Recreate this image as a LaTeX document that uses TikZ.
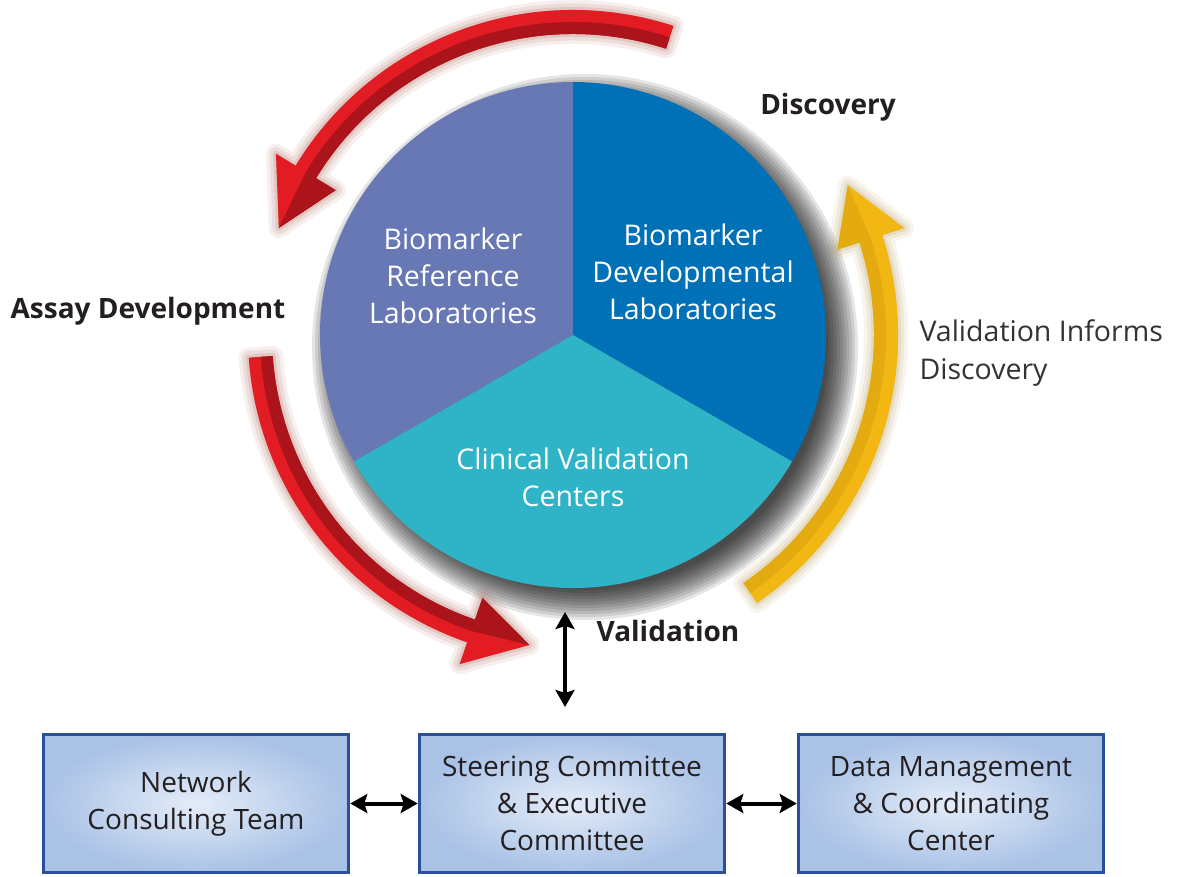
\documentclass[tikz,border=0pt]{standalone}
\usepackage{fontspec}
\setmainfont{Open Sans}
\usetikzlibrary{calc,arrows.meta}

\definecolor{purp}{HTML}{6878B5}
\definecolor{blu}{HTML}{0071B6}
\definecolor{cyn}{HTML}{2EB3C7}
\definecolor{redA}{HTML}{E31B23}
\definecolor{redB}{HTML}{AA141A}
\definecolor{redS}{HTML}{8A2A18}
\definecolor{yelA}{HTML}{F2B713}
\definecolor{yelB}{HTML}{DBA40E}
\definecolor{yelS}{HTML}{9C7A1C}
\definecolor{boxline}{HTML}{2B4F9B}
\definecolor{boxin}{HTML}{E4ECF8}
\definecolor{boxout}{HTML}{A9C2E6}
\definecolor{txt}{HTML}{231F20}
\definecolor{txtgray}{HTML}{333333}

% fat curved arrow around C: tail angle, head base angle, tip angle
\newcommand\fatpath[3]{(C) ++(#1:325) arc[start angle=#1,end angle=#2,radius=325] -- ($(C)+(#2:348)$) -- ($(C)+(#3:313)$) -- ($(C)+(#2:278)$) -- ($(C)+(#2:301)$) arc[start angle=#2,end angle=#1,radius=301] -- cycle}
\newcommand\innerpath[3]{(C) ++(#1:313) arc[start angle=#1,end angle=#2,radius=313] -- ($(C)+(#3:313)$) -- ($(C)+(#2:278)$) -- ($(C)+(#2:301)$) arc[start angle=#2,end angle=#1,radius=301] -- cycle}

\tikzset{
  intext/.style={text=white, align=center, font=\fontsize{28.5}{37}\selectfont},
  lbl/.style={text=txt, font=\bfseries\fontsize{28}{32}\selectfont},
  note/.style={text=txtgray, align=left, font=\fontsize{28.5}{38}\selectfont},
  unit/.style={draw=boxline, line width=3.5pt, inner color=boxin, outer color=boxout,
    minimum width=305pt, minimum height=138pt, align=center, text=txt,
    font=\fontsize{28}{37}\selectfont},
  dbl/.style={{Stealth[length=17pt,width=19pt,inset=3pt]}-{Stealth[length=17pt,width=19pt,inset=3pt]}, line width=4pt, black}
}

\begin{document}
\begin{tikzpicture}[x=1pt,y=1pt]
\useasboundingbox (0,0) rectangle (1181,-876);
\fill[white] (0,0) rectangle (1181,-876);
\coordinate (C) at (573,-335);

% circle shadow
\foreach \r in {273,270,...,243}
  \fill[black,opacity=0.1] ($(C)+(12,-12)$) circle[radius=\r];

% pie
\fill[purp] (C) -- ++(90:253) arc[start angle=90,end angle=210,radius=253] -- cycle;
\fill[blu] (C) -- ++(-30:253) arc[start angle=-30,end angle=90,radius=253] -- cycle;
\fill[cyn] (C) -- ++(210:253) arc[start angle=210,end angle=330,radius=253] -- cycle;

% arrow shadows
\foreach \lw/\op in {20/0.07,13/0.09,6/0.12}{
  \draw[redS,opacity=\op,line width=\lw,line join=round,shift={(5,-7)}] \fatpath{72}{148.6}{160};
  \draw[redS,opacity=\op,line width=\lw,line join=round,shift={(5,-7)}] \fatpath{184}{251}{262};
  \draw[yelS,opacity=\op,line width=\lw,line join=round,shift={(5,-7)}] \fatpath{-55.5}{17.9}{28.6};
}
\fill[redS,opacity=0.35,shift={(5,-7)}] \fatpath{72}{148.6}{160};
\fill[redS,opacity=0.35,shift={(5,-7)}] \fatpath{184}{251}{262};
\fill[yelS,opacity=0.35,shift={(5,-7)}] \fatpath{-55.5}{17.9}{28.6};

% arrows
\fill[redA] \fatpath{72}{148.6}{160};
\fill[redB] \innerpath{72}{148.6}{160};
\fill[redA] \fatpath{184}{251}{262};
\fill[redB] \innerpath{184}{251}{262};
\fill[yelA] \fatpath{-55.5}{17.9}{28.6};
\fill[yelB,opacity=0.6] \innerpath{-55.5}{17.9}{28.6};

% pie texts
\node[intext] (brl) at (453,-276) {Biomarker\\Reference\\Laboratories};
\node[intext] (bdl) at (693,-272) {Biomarker\\Developmental\\Laboratories};
\node[intext] (cvc) at (573,-477) {Clinical Validation\\Centers};

% labels
\node[lbl] (disc) at (828,-107) {Discovery};
\node[lbl] (assay) at (148,-311) {Assay Development};
\node[lbl] (valid) at (668,-631) {Validation};
\node[note, anchor=west] (vid) at (916,-353) {Validation Informs\\Discovery};

% boxes
\node[unit] (nct) at (196,-803.5) {Network\\Consulting Team};
\node[unit] (sec) at (572,-803.5) {Steering Committee\\\& Executive\\Committee};
\node[unit] (dmcc) at (951,-803.5) {Data Management\\\& Coordinating\\Center};

% connectors
\coordinate (vtop) at (565,-612);
\coordinate (vbot) at (565,-707);
\draw[dbl] (vtop) -- (vbot);
\draw[dbl] (nct.east) -- (sec.west);
\draw[dbl] (sec.east) -- (dmcc.west);
\end{tikzpicture}
\end{document}
